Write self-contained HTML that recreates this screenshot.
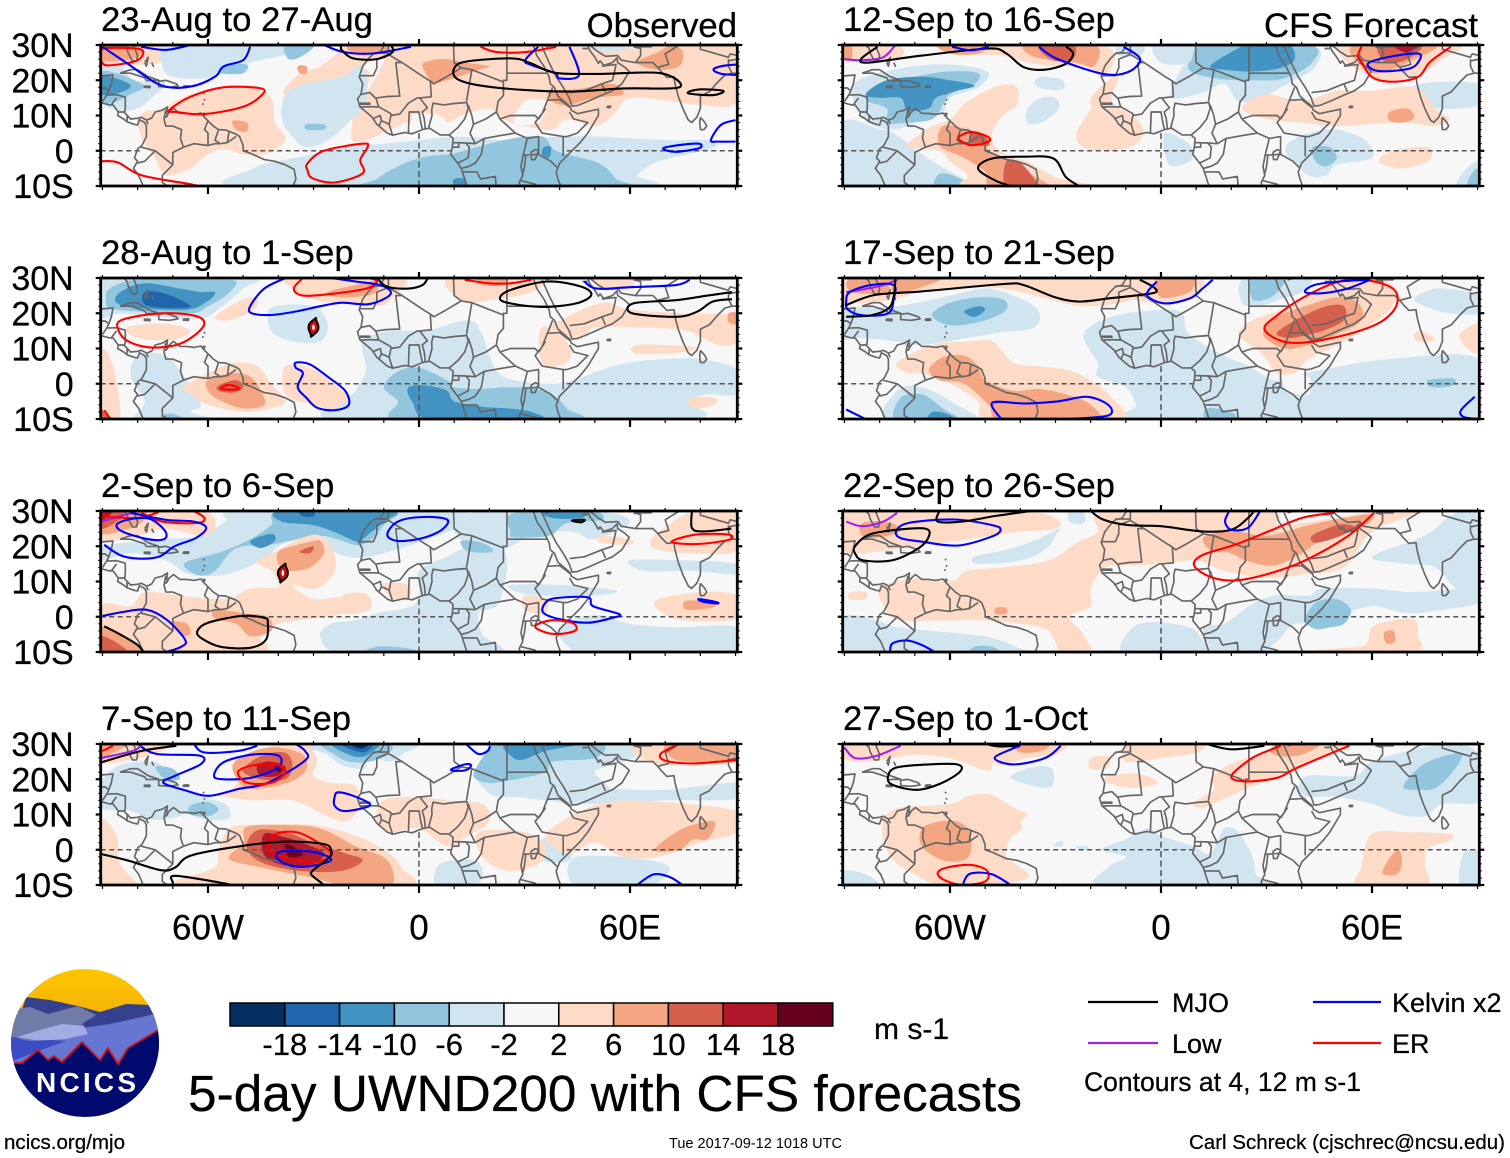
<!DOCTYPE html>
<html lang="en">
<head>
<meta charset="utf-8">
<title>5-day UWND200 with CFS forecasts</title>
<style>
html,body{margin:0;padding:0;background:#fff;}
svg{display:block;}
text{font-family:"Liberation Sans",sans-serif;fill:#000;stroke:#000;stroke-width:.25px;}
</style>
</head>
<body>
<svg id="chart" xmlns="http://www.w3.org/2000/svg" width="1510" height="1158" viewBox="0 0 1510 1158">
  <rect width="1510" height="1158" fill="#fff"/>
  <defs id="defs"></defs>
  <g id="panels"></g>

  <g font-size="34.7">
    <text x="101" y="31">23-Aug to 27-Aug</text>
    <text x="101" y="264">28-Aug to 1-Sep</text>
    <text x="101" y="497">2-Sep to 6-Sep</text>
    <text x="101" y="730">7-Sep to 11-Sep</text>
    <text x="843" y="31">12-Sep to 16-Sep</text>
    <text x="843" y="264">17-Sep to 21-Sep</text>
    <text x="843" y="497">22-Sep to 26-Sep</text>
    <text x="843" y="730">27-Sep to 1-Oct</text>
    <text x="737" y="37" text-anchor="end">Observed</text>
    <text x="1478" y="37" text-anchor="end">CFS Forecast</text>
  </g>

  <g id="colorbar"></g>
  <text x="874" y="1039" font-size="30">m s-1</text>

  <g font-size="27">
    <line x1="1088" x2="1158" y1="1002" y2="1002" stroke="#000" stroke-width="2.2"/>
    <text x="1172" y="1012">MJO</text>
    <line x1="1313" x2="1381" y1="1002" y2="1002" stroke="#0000ff" stroke-width="2.2"/>
    <text x="1392" y="1012">Kelvin x2</text>
    <line x1="1088" x2="1158" y1="1043" y2="1043" stroke="#a020f0" stroke-width="2.2"/>
    <text x="1172" y="1053">Low</text>
    <line x1="1313" x2="1381" y1="1043" y2="1043" stroke="#ff0000" stroke-width="2.2"/>
    <text x="1392" y="1053">ER</text>
    <text x="1084" y="1091" textLength="277" lengthAdjust="spacingAndGlyphs">Contours at 4, 12 m s-1</text>
  </g>

  <text x="188" y="1111" font-size="51" textLength="834" lengthAdjust="spacingAndGlyphs">5-day UWND200 with CFS forecasts</text>
  <text x="4" y="1149" font-size="20.5" textLength="121" lengthAdjust="spacingAndGlyphs">ncics.org/mjo</text>
  <text x="669" y="1148" font-size="14.5" textLength="173" lengthAdjust="spacingAndGlyphs" style="stroke-width:0">Tue 2017-09-12 1018 UTC</text>
  <text x="1189" y="1149" font-size="20.5" textLength="316" lengthAdjust="spacingAndGlyphs">Carl Schreck (cjschrec@ncsu.edu)</text>

  <g>
    <defs>
      <clipPath id="logoClip"><circle cx="85" cy="1043" r="74"/></clipPath>
      <linearGradient id="sky" x1="0" y1="0" x2="0" y2="1"><stop offset="0" stop-color="#ffc600"/><stop offset="1" stop-color="#eea90c"/></linearGradient>
    </defs>
    <g clip-path="url(#logoClip)">
      <rect x="10" y="968" width="150" height="70" fill="url(#sky)"/>
      <path d="M10 1050L26 997L50 1000L78 1006L100 1012L126 1004L150 1005L162 1030L162 1060L10 1060Z" fill="#35418f"/>
      <path d="M10 1010L30 1007L48 1014L78 1006L96 1015L82 1024L90 1034L60 1045L10 1050Z" fill="#717ba8"/>
      <path d="M10 1041L60 1036L82 1028L110 1024L155 1014L162 1030L162 1070L10 1075Z" fill="#6677d2"/>
      <path d="M17 1037L40 1030L62 1024L84 1026L88 1034L66 1039L40 1041Z" fill="#a3abe3"/>
      <path d="M10 1036L28 1041L50 1040L66 1041L20 1058L10 1062Z" fill="#3a4dc4"/>
      <path d="M10 1063L22 1063L38 1050L48 1060L54 1056L62 1062L82 1042L92 1052L100 1060L108 1048L118 1064L128 1048L158 1030L162 1028L162 1125L10 1125Z" fill="#000a6e"/>
      <path d="M10 1063L22 1063L38 1050L48 1060L54 1056L62 1062L82 1042L92 1052L100 1060L108 1048L118 1064L128 1048L158 1030L162 1028" fill="none" stroke="#d8141e" stroke-width="1.8"/>
    </g>
    <text x="86" y="1092" font-size="28" font-weight="bold" text-anchor="middle" textLength="100" style="fill:#fff;stroke-width:0">NCICS</text>
  </g>
</svg>

<script>
/* ---------- colour scale and axis values ---------- */
const levelColors = {"-5":"#053061","-4":"#2166ac","-3":"#4393c3","-2":"#92c5de","-1":"#d1e5f0","0":"#f7f7f7","1":"#fddbc7","2":"#f4a582","3":"#d6604d","4":"#b2182b","5":"#67001f"};
const colorbarLevels = [-5,-4,-3,-2,-1,0,1,2,3,4,5];
const colorbarLabels = ["-18","-14","-10","-6","-2","2","6","10","14","18"];
const latTickValues = [30,20,10,0,-10];
const latTickLabels = ["30N","20N","10N","0","10S"];
const lonTickValues = [-60,0,60];
const lonTickLabels = ["60W","0","60E"];
const waveColors = {mjo:"#000000",low:"#a020f0",kelvin:"#0000ff",er:"#ff0000"};

/* ---------- dashed graticule (drawn over ocean only), in degrees ---------- */
const equatorOceanSpans = [[-90.5,-79],[-50,9.5],[42,90.5]];
const meridianOceanSpan = [5,-10];

/* ---------- coast and border polylines [lon,lat,...] ---------- */
const coastLines = [
 [-90.5,21.2,-87,21.5,-87.5,19,-88.2,17,-88.8,15.8,-86,15.9,-83.5,15.2,-83.5,12,-83.7,10.8,-82,9,-80,9.2,-79,9.5,-77.4,8.7,-76,9.3,-75,11,-73,11.5,-71.5,12.4,-71.7,10.8,-71.5,10,-72,9.5,-71,11,-69.8,12,-68,10.6,-66,10.6,-64,10.3,-62,10.7,-61,9.5,-60,8.5,-58.5,7,-57,6,-55,5.9,-52,4.7,-51,4,-50,1.5,-50,0,-48,-0.7,-44,-2.5,-41,-3,-38,-4,-35.5,-5.3,-35,-8,-36,-10.5],
 [-90.5,13.7,-88,13,-87,13,-85.5,11,-85.7,10,-84,9,-83,8.2,-81,7.5,-80,7.3,-79.5,8.8,-78,8,-77.5,7,-77.5,4,-78.8,1.5,-80,0.5,-80.9,-2,-80,-3,-81.2,-5,-79.7,-7,-78.2,-10.5],
 [-84,30,-83,29,-82.7,27.8,-81.5,25.5,-80.3,25.5,-80,27,-81,29.5,-81.3,30],
 [-90.5,30,-89,30,-84,30],
 [-85,22,-82,23,-80,23,-77,21,-74,20,-77.5,19.9,-78,20.7,-82,22,-85,22],
 [-78.3,18.3,-76.5,18.3,-76.5,17.9,-78.3,18],
 [-74,19.7,-72,20,-69,19,-68.5,18.4,-71,18,-74,18.2,-74,19.7],
 [-67,18.4,-65.5,18.4,-65.5,18,-67,18,-67,18.4],
 [-78,25,-77,26.5,-77.5,24,-78,25],[-76,25,-75.5,24,-76,25],
 [-61.5,16.2,-61,16.2],[-61,14.7,-61,14.2],[-61.5,13.5,-61.4,13],[-61.5,10.6,-60.9,10.6,-61,10,-61.6,10.1,-61.5,10.6],
 [-72,11.6,-72.5,9,-72,7,-70,7,-67.5,6,-67.8,3.5,-67,1,-70,-0.5,-70,-4,-73,-7,-73,-9,-70,-11],
 [-60,8.5,-61,6,-60,5,-60,1.5],[-57,6,-58,3,-56.5,2],[-54,5.7,-54.5,2.3],
 [-52,4,-54.5,2.3,-56.5,2,-58,2,-60,1.5,-64,2,-67,1],[-79,1,-75,0,-70,-4],[-80,-3.5,-78,-3,-75,0],
 [-83.5,11,-85.7,11],[-83,8.5,-83,10],[-77.5,8.5,-77,7.5],[-88.2,17,-89.2,17.8,-91,17.8],[-88.8,15.8,-90,14],[-87.5,13,-86,15],
 /* Africa */
 [-9.8,30,-11,28,-13,27.5,-14.5,26,-16,24,-17,21,-16,19,-16.5,16,-17.5,14.7,-16.8,12.5,-15,11,-13.3,9.5,-12,7.5,-9,5,-7.5,4.4,-4,5.2,-2,4.8,1,6,3,6.4,6,4.5,8.5,4.5,9.7,3.5,9.5,1,9,-1,11,-3.5,12,-5,13,-8,13.8,-10.5],
 [32.5,30,33.5,27,35.5,24,37,21,37.3,19,38.5,18,39.5,15.5,43,12.5,43.3,11.5,45,10.5,51,11.8,51,10,48,5,46,2.5,42,-1.5,40,-3.5,39,-6,39.5,-8,40.5,-10.5],
 [-13,27.7,-8.7,27.7,-8.7,30],[-8.7,27.3,-12,26,-12,23.5,-13,21.3,-17,21.3],[-8.7,27.3,-4.8,25,-6.6,25,-5.5,15.5,-9,15.4,-12,15,-12.2,14.8,-14,16.5,-16.5,16],
 [-4.8,25,1.2,21,3.2,19.8,4.2,19,7.5,20.8,12,23.5,10,25,9.8,30],[12,23.5,15,23,24,19.5],[25,30,25,20,24,20,24,15.7,22.5,14,22,11,23,9],[25,22,36.5,22],
 [15,23,13.5,14],[3.2,19.8,3.5,15.3,0.2,15,-0.5,15,-3,13.5,-5,11,-5.5,10.4,-8,10,-8,10.5,-11.5,12.5,-12.2,14.8],[-11.4,12.4,-13.7,12.5,-16.7,12.4],[-16.8,13.5,-14,13.5,-14,13.2,-16.8,13.2],
 [-13.3,9,-11,10,-10.7,8.5,-11.4,7],[-8.5,7.5,-7.5,4.4],[-8,10,-8.5,7.5,-9.5,8,-10.7,8.5],[-3,5,-2.8,11,0,11,0.5,8,1,6],[1.8,6.3,1.5,9,0.9,11,2.4,12.2,0.2,15],
 [2.7,6.3,3.7,10,3.6,11.7,4,13.5,7,13,10,13.4,13.6,13.7,14,12,13,9,11,6.5,9,4.8,8.5,4.5],[14,13,15,10,15.5,7.5,14.5,5,16,2],[9.8,2.3,13.3,2.2,16,2],[15.5,7.5,19,9,22,11],[23,9,27.4,5,22.5,4.2,18.5,3.5,16,2],
 [18.5,3.5,17.7,-1,16,-3.5,14,-4.5,12,-5],[13.3,2.2,14.3,1,14,-2,11,-3.5],[9.5,1,11.3,1,11.3,2.2],[12.2,-6,16.5,-6,17.5,-8,21.7,-7.3,22,-11],
 [27.4,5,30.8,3.5,29.6,-1.3,29,-4.5,29.5,-7,28.5,-9,29,-11],[23,9,26,10,33,10,34,9],[36.5,14.3,35,10.5,33,8,35,5,41,4,42,4,45,5,48,8,44,9,42.8,11],[30.8,3.5,34,4,34,-1,37.5,-3,39.2,-4.7],
 [31.8,-0.5,33,0.3,34,0,33,-2.5,32,-2.5,31.8,-0.5],[29.6,-1.3,34,-1],[30.4,-1,30,-4.5,29.5,-6.5],[29,-8.5,33,-9.5,34.5,-11],[41,4,41,-1.6],[36.5,14.3,38,18],[36.5,14.3,40,14.5,43,12.2],[34,9,36,12],
 /* Arabia, Iran, South Asia */
 [35,29.5,37,25,39,21,41,18,42.7,15,43.5,12.7,45,12.8,48,14,52,15.8,55,17,57.7,19,59.8,22.5,58.5,23.7,56.5,25,56.3,26.3,55,25,52.5,24.2,51.5,25.5,51,24.8,50,26.5,48.5,28.5,48,30],
 [48.5,30,51,28,53,26.8,56.5,27,57.5,25.7,61.5,25,66.5,25,68,23.5,69,22.3,70.5,20.8,72.5,21,72.8,19,73.7,15.5,75,12,76.5,8.8,77.5,8,79,9.5,80,12,80,15.5,82.5,16.7,85,19.5,87,21.5,89,22,90.5,22],
 [80,9.5,81.3,8,81.8,7,81,6,80,6,79.8,8,80,9.5],[53.5,12.6,54.5,12.6,54.3,12.2,53.5,12.3,53.5,12.6],
 [36,29.5,38,30,40,31],[46.5,29,48,29],[42.8,16.5,47,17,52,19,55,20,55.5,22,56,24.5,52,24],[52,19,53,16.7],[61.5,25,63,27,63,29,61,29.5],[68,23.7,71,24.5,70,27.5,74,30],[61,29.5,66,29.5,67,31],
 [80,30,80,28.8,88,26.5,88.5,27.5,90.5,27],[88,26,88,24,89,22],[90.5,26,88,25.5],[74,30,79,31]
];

/* ---------- contour-fill regions: [level,[lon,lat,...]] ---------- */
const fills1 = [
 [1,[-90.5,30,-72,30,-74,25,-85,24.5,-90.5,25]],
 [2,[-90.5,30,-80,30,-80,26.5,-90,25.5]],
 [-1,[-90.5,24,-85,24,-81,20,-75,20,-72,19,-76,15,-80,12,-85,11.5,-90.5,14]],
 [-2,[-90.5,22,-86,22,-81,20,-78,18,-82,16,-86,14,-90.5,14]],
 [-3,[-90.5,21,-86,20.5,-82,18.5,-85,16.5,-90.5,16]],
 [-1,[-72,30,-55,30,-40,30,-33,30,-37,27.5,-48,25,-55,22,-62,20.5,-70,21,-73,24]],
 [-2,[-56,24,-49,24.5,-50,22,-56,22]],
 [-2,[-38,30,-30,30,-33,27,-37,26]],
 [1,[-20,30,-12,30,5,30,30,30,60,29,65,30,90.5,30,90.5,14,80,13,72,14,60,15,55,10,50,7,42,9,38,6,30,7,24,9,20,12,12,10,8,8,0,9,-8,6,-15,3,-19,3,-19,8,-19,14,-23,20,-38,16,-35,21,-28,24,-24,27]],
 [1,[-73,12,-65,16,-55,17.5,-48,18,-42,15,-41,8,-38,3,-44,-1,-50,-1,-55,0.5,-60,-1,-65,-5,-72,-7,-75,-2,-78,2,-80,8,-78,11]],
 [0,[-16,24,-10,26,-14,18,-17,15,-15,17,-14,22]],
 [-1,[-39,9,-38,16,-32,19,-22,21,-16,24,-15,14,-20,8,-26,3,-32,1,-36,4]],
 [-2,[-32,7.5,-27,7.5,-27,6,-32,6]],
 [0,[27,8,34,8,36,14,30,14]],[0,[-2,10,6,10,8,6,2,5]],[0,[70,7,85,9,90,10,90,7,80,6]],
 [-1,[-48,-10.5,-47,-5,-40,-3,-30,-1,-22,1,-10,2,0,3,12,4,25,3,40,4,52,4,60,3.5,72,3,82,3,84,1,72,-2,66,-4,62,-7,60,-10.5]],
 [-2,[-12,-10.5,-12,-8,-4,-3.5,3,-1.5,10,-0.7,24,3,35,4,39,0,51,-3.5,56,-8,56,-10.5]],
 [-3,[35.5,1,37.5,1,37,-2,35,-1]],[-3,[10,-8,13,-8,13,-10,10,-10]],[-3,[0,-10,7,-10,7,-10.5,0,-10.5]],
 [2,[1,24,3,25.5,8,26,13,25,20,24,17,23,8,20,4,19.5]],
 [2,[37,17,45,17.5,55,19,58,16,50,15,42,13,38,14]],
 [2,[62,25,68,28,72,30,75,28,74,24,68,23]],
 [2,[-53,8.5,-49,8,-49,5.5,-52,6]],
 [2,[-34.5,24,-32,24,-32,22,-34,22]],
 [2,[-20,30,-9,30,-10,28,-18,27.5]],
 [-1,[50,30,60,30,58,28.5,50,28.5]]
];
const fills2 = [
 [-1,[-90.5,30,-48,30,-50,27,-56,22,-62,18.5,-75,19,-85,20,-90.5,19]],
 [-2,[-88,27,-80,29.5,-60,29.5,-52,29,-55,25,-60,22,-65,20,-80,20.5,-88,21.5,-89,24]],
 [-3,[-85,26,-78,28.5,-68,27,-62,26,-58,26,-60,23.5,-66,21,-80,21.5,-86,23]],
 [-4,[-78,26,-72,25.5,-65,22,-72,21.5,-78,22.5]],
 [1,[-36,30,-5,30,-8,24,-12,22,-23,23,-30,24,-36,27]],
 [2,[-26,26,-18,28,-12,29,-13,25.5,-22,24.5]],
 [1,[-83,16,-72,17,-65,15,-70,12.5,-80,13]],
 [-1,[-42,21.5,-30,22,-26,17,-28,12,-36,12,-42,15]],
 [1,[-58,19,-50,24,-46,24,-47,21,-54,18]],
 [-1,[-22,-10.5,-18,-2,-15,4,-16,12,-8,15,2,15,14,18,18,14,20,8,24,2,36,0,44,1,52,4,60,6,70,7,80,7,90.5,4,90.5,-3,82,-3,77,-5,74,-10.5]],
 [-2,[-10,-1,-6,3.5,0,4.5,8,1,10,-1,18,-1.5,25,-1,33,-1.5,38,-3,42,-7,44,-10.5,-5,-10.5,-6,-5]],
 [-3,[-3,-1,2,-0.5,8,-2,10,-5,18,-6.5,25,-7,32,-8,34,-10.5,4,-10.5,-2,-5]],
 [-1,[-80,8,-72,8,-66,1,-62,-6,-65,-8,-58,-10.5,-80,-10.5,-78,-5,-82,2]],
 [-2,[-73,-9,-70,-8.5,-66,-10.5,-73,-10.5]],
 [1,[9,30,34,30,32,26,22,24,14,23,10,25]],
 [2,[17,30,25,30,23,28,18,28]],
 [1,[36,15,40,18,52,23,60,21,75,20,90.5,19,90.5,12,85,11,76,15,62,16,50,16,47,13.5,40,13]],
 [1,[35,16,40,14,43,10,42,6,36,5,34,10]],
 [1,[50,30,60,30,60,27,52,27]],
 [2,[88,20,90.5,20,90.5,17,88,17.5]],
 [1,[-67,-1,-58,4,-52,6,-46,5,-42,0,-38,-5,-42,-7,-50,-8,-60,-6,-65,-3]],
 [2,[-60,1,-53,3,-48,2,-45,-2,-44,-6,-50,-7,-57,-4.5,-60,-2]],
 [3,[-57,-0.5,-52,1,-50,-1,-53,-2.5,-57,-2]],
 [1,[-38,5,-30,4,-22,-2,-20,-4,-24,-7,-30,-6,-38,-3]],
 [1,[62,11,78,10.5,75,9,62,8.5]],
 [1,[77,-4,84,-4,84,-6,78,-7]],
 [1,[-90.5,9,-87,5,-85,-10.5,-90.5,-10.5]],
 [3,[-90.5,-7,-88,-10.5,-90.5,-10.5]]
];
const fills3 = [
 [-1,[-90.5,20,-72,22,-62,23,-55,27,-50,30,10,30,12,26,8,24,-10,18,-20,17,-30,21,-38,21,-45,16,-55,12,-65,12,-72,16,-82,18,-90.5,16]],
 [-2,[-62,11.7,-58,13,-52,19.4,-42,20.5,-28,23,-16.5,20.4,-10,26,-8,30,-39,30,-42,26,-48,22,-56,18.5,-66,15.6,-66,13.5]],
 [-3,[-39,30,-8,30,-10,27,-16,22,-17,21,-24,24,-30,26,-39,27]],
 [-3,[-48,21.5,-42,23.5,-41,21.5,-45,19.5]],
 [-4,[-34,30,-30,30,-30,28.5,-33,28.5]],
 [1,[-90.5,30,-62,30,-58,25,-62,23,-72,25,-80,23,-90.5,22]],
 [2,[-90.5,30,-78,30,-80,26,-90.5,23.5]],
 [3,[-90.5,30,-84,30,-86,27,-90.5,25]],
 [4,[-90.5,30,-87,30,-90.5,27]],
 [-1,[18,30,50,30,60,27,50,22,44,24,34,24,28,21,18,16,14,20,10,25]],
 [-2,[26,24,26,29,38,30,50,30,52,27.5,42,26.5,37,23,27,22.5]],
 [-3,[35,30,47,30,46,28,38,28]],
 [-1,[0,13,8,17,14,20,22,21,25,16,24,8,22,3,17,1,18,-5,22,-10.5,-20,-10.5,-28,-6,-25,-2,-18,-1,-12,1,-2,3,0,7]],
 [-2,[12,21.5,18,21,21,18.5,14,18.5]],
 [-2,[-15,-10.5,0,-10.5,-3,-9,-12,-8.5]],
 [-1,[60,16,75,16,90.5,15,90.5,12,78,13,64,13]],
 [-1,[26,9,40,9,56,7.5,50,6,35,6,28,7]],
 [-1,[40,-3,50,0.5,60,-2,72,-3,90.5,-3,90.5,-10.5,50,-10.5,42,-8]],
 [1,[-90.5,3,-82,3,-78,7,-68,6,-55,5,-48,8,-40,8.5,-42,13,-46,15.5,-40,19,-33,22.5,-28,23,-24.5,19,-24,13,-29,8,-36,9,-30,5,-22,5.5,-20,1.5,-30,-0.5,-40,-2,-45,-6,-43,-8,-48,-10.5,-90.5,-10.5]],
 [2,[-40,18.5,-36,20,-30,21.5,-28,21.5,-27,18,-31,14,-37,13,-40,15]],
 [3,[-34,18.5,-30,20,-31,18]],
 [2,[-58,2,-50,1,-43,0,-42,-4,-48,-5.5,-52,-2,-58,-0.5]],
 [2,[-90.5,-3,-83,-6,-78,-10.5,-90.5,-10.5]],
 [3,[-90.5,-5.5,-85,-8,-83,-10.5,-90.5,-10.5]],
 [2,[-70,-1.5,-66,-2,-65,-5,-68,-5]],
 [1,[-22,6,-15,6.5,-14,2,-22,1]],
 [1,[-10,9.5,-3,9,-3,5,-8,5.5]],
 [1,[30,6,36,5,36,1,30,2]],
 [1,[51,23,60,22,60,20.5,52,21]],
 [1,[66,22,74,28,80,30,90.5,30,90.5,19,78,18,68,19]],
 [1,[68,5,80,7,90.5,6,90.5,-0.5,75,-1,68,2]],
 [2,[76,4.5,84,4,83,2.5,76,2]]
];
const fills4 = [
 [-1,[-90.5,19,-85,24,-76,25,-72,23,-68,18,-62,15,-55,13,-54,9,-60,8.5,-66,10,-70,9,-76,8.5,-82,11,-90.5,12]],
 [-2,[-75,23.5,-70,23,-68,20,-72,20]],
 [-2,[-65,12.5,-60,13.5,-57,11.5,-60,9.5,-65,10]],
 [-1,[-32,30,-26,27,-22,24,-16,23,-14,26,-8,25,-5,27,-2,30]],
 [-2,[-27,30,-24,27,-20,25,-14,25,-9,27,-9,30]],
 [-3,[-24.5,30,-20,27,-16,26.3,-13,28,-12,30]],
 [-4,[-22,30,-18,28,-15,27.8,-13.5,30]],
 [-5,[-19.5,30,-16.5,28.7,-14.5,30]],
 [-1,[17,19,17,23,20,26,25,30,60,30,62,27,55,24,50,22,54,17,45,17,38,14,28,15,22,15]],
 [-1,[38,18,50,17.5,70,17,90.5,19,90.5,14.5,70,14,50,13,38,14]],
 [-2,[15.5,21,18,26,22,30,36,30,52,30,50,26,38,25,36,22,25,19.5,19,19]],
 [-3,[25,30,45,30,36,28,30,25.7,27,26]],
 [-1,[6,-4,16,-3,18,-8,14,-10.5,5,-10.5]],
 [-1,[35,3,42,3,43,-3,35,-3]],
 [-1,[45,-2,70,-4,65,-10.5,45,-10.5]],
 [-2,[10,-10,18,-10,15,-10.5]],
 [1,[-90.5,30,-72,30,-76,27,-90.5,24.5]],
 [2,[-90.5,30,-83,30,-88,27,-90.5,26]],
 [1,[-53,17,-49,24,-43,29,-33,30,-29,26,-30,21,-25,19,-18,18,-17,12,-21,8,-27,10,-36,14,-48,14,-56,15.5]],
 [1,[-54,6,-47,7,-30,7,-18,4,-10,0,-5,-5,-6,-10.5,-68,-10.5,-58,-5,-57,0]],
 [1,[-10,14,0,15,8,14,18,13,20,8,14,4,8,1,0,6,-8,5,-12,8]],
 [1,[17,5,30,5,36,1,34,-4,25,-6,18,-2]],
 [1,[36,4,46,11,60,14,90.5,11,90.5,5,80,2,68,-2,58,-2,50,2,42,-1]],
 [1,[-90.5,8,-86,4,-85,-4,-80,-10.5,-90.5,-10.5]],
 [2,[-53,24,-47,28,-40,29,-33,27,-32,23,-36,19.5,-44,17.5,-50,18]],
 [3,[-49,24,-44,27,-38,27.5,-36,24,-38,20,-45,20,-50,22]],
 [4,[-46,24,-42,25,-38,23.5,-40,21,-45,21]],
 [5,[-41,23.5,-39,23,-40,22]],
 [2,[-49,6.5,-38,7,-28,6,-18,1,-9,-3,-8,-10.5,-20,-10.5,-30,-8,-45,-5,-54,-2.5,-50,2]],
 [3,[-46,5.5,-38,5,-30,2,-21,-1,-16,-3,-22,-6,-34,-6,-45,-3.5,-49,1]],
 [4,[-44,4.5,-38,3.5,-32,1.5,-27,-1,-30,-4,-38,-4.5,-44,-1.5]],
 [5,[-38,1.5,-35,0.5,-33,-1.5,-37,-2]],
 [2,[67,0,75,6,84,8,82,3,78,3,74,0]],
 [1,[62,30,90.5,30,90.5,25,75,24,65,25]],
 [2,[71,30,90.5,30,90.5,25,78,25,72,26]]
];
const fills5 = [
 [-1,[-88,16,-86,20,-76,23,-65,24.5,-55,24,-49,22,-52,18,-60,15,-62,11,-68,9,-72,7,-78,6,-84,9]],
 [-2,[-84,14.5,-80,18,-70,21,-60,22.5,-52,22,-53,19,-60,16,-62,13,-65,9,-72,8,-78,8,-78,12]],
 [-3,[-84,16,-78,20,-68,21,-60,20,-53,18.5,-58,17,-64,15,-66,12,-72,11.5,-74,15,-80,15]],
 [-1,[-34,21,-28,20,-28,17.5,-33,17.5,-36,19]],
 [-1,[-38,8,-38,12,-34,15,-30,15,-29,12,-34,8]],
 [-1,[-90.5,8,-80,6,-76,5,-65,-3,-56,-8,-50,-10.5,-90.5,-10.5]],
 [-2,[-63,-6.5,-58,-7.5,-54,-10.5,-64,-10.5]],
 [-1,[3,15,5,22,8,26,10,30,42,30,44,24,36,19,28,15,22,14,18,19,12,16.5]],
 [-2,[8,23,10,29,14,30,42,30,43,25,35,20.5,26,20,16,20.5]],
 [-3,[14,24,20,28,25,30,36,30,38,26,34,23.5,26,22.5,18,23]],
 [-1,[70,15,74,19,90.5,19,90.5,13,78,12]],
 [-1,[36,2,42,5,50,6,58,3,60,-2,50,-4,47,-7,42,-7,36,-1.5]],
 [-2,[43,1,48,1,50,-2,47,-4.5,44,-3]],
 [-1,[1,5,8,2,9,-2,6,-4,2,-3.5]],
 [-1,[84,-10.5,90.5,-10.5,90.5,-3,86,-6]],
 [-2,[87,-10.5,90.5,-10.5,90.5,-5,88,-7]],
 [-1,[-12,30,-5,30,-6,27,-12,27]],
 [-1,[-2,30,8,30,8,25,0,25]],
 [1,[-90.5,30,-75,30,-75,26,-90.5,25.5]],
 [2,[-90.5,30,-88,30,-88,26,-90.5,26]],
 [1,[-62,30,-17,30,-16,21,-22,24,-30,24,-38,25,-45,27,-55,27.5]],
 [2,[-38,30,-19,30,-19,24,-24,25,-30,25.5,-37,27]],
 [3,[-34,30,-25,30,-25,26,-30,25.5,-34,28]],
 [2,[-63,30,-50,30,-52,27.5,-60,27.5]],
 [1,[-65,7,-60,9,-55,14,-46,18.5,-41,18,-41,13,-45,10,-48,5,-47,1,-42,-2,-38,-3,-30,-7.5,-18,-10.5,-55,-10.5,-55,-7,-60,-3,-63,0,-72,1,-71,3]],
 [2,[-62,7,-55,6,-50,4,-49,0,-45,-2,-41,-3,-38,-6,-32,-10.5,-48,-10.5,-50,-6,-56,-2,-63,1.5]],
 [3,[-54,5,-50,4,-49,1.5,-54,2]],
 [3,[-44,-3,-40,-3.5,-36,-8,-35,-10.5,-44,-10.5]],
 [1,[-15,20,-12,21,-14,14,-8,10,-5,6,-7,2,-14,0,-22,1,-24,5,-20,12,-20,15]],
 [1,[23,12,30,16,40,14,50,17,60,17,72,18,78,12,82,9,78,7,68,8,50,7,40,8,30,9]],
 [2,[65,11,70,12,72,9.5,69,8,65,8.5]],
 [1,[50,29.5,55,30,84,30,80,26,74,22,64,20,56,23,52,26]],
 [2,[55,30,78,30,70,25,62,22,57,24]],
 [3,[62,30,74,30,70,26,64,25]],
 [4,[66,30,73,30,70,27.8]],
 [1,[66,0,76,1,76,-3,68,-5,62,-3]]
];
const fills6 = [
 [-1,[-90.5,21,-75,22,-60,25,-50,27,-42,25,-35,21,-36,16,-46,14.5,-55,13,-68,11,-75,12,-85,13,-90.5,13]],
 [-2,[-65,20,-60,23,-52,24.5,-45,24,-44,21,-50,18,-58,16.5,-63,17.5]],
 [-3,[-56,20.5,-52,22,-50,21,-53,19]],
 [-1,[-22,14,-14,19,0,21,6,20,8,14,18,8,25,5,32,1,37,2,46,4,65,7,90.5,7,90.5,-10.5,-4,-10.5,-7,-6,-10,-1,-18,2,-18,6]],
 [0,[35,2,42,2,42,-3,36,-2]],
 [-2,[76,1,83,1.5,83,-0.5,77,-1]],
 [-2,[13,-7,20,-8,21,-10.5,13,-10.5]],
 [-1,[23,23,24,30,42,30,40,26,34,24,28,22]],
 [-2,[26,24,26,30,35,30,33,26,30,24]],
 [-1,[72,24,78,27,88,26,90.5,25,90.5,20,82,20,75,22]],
 [-1,[-75,-2,-68,-1,-58,-6,-53,-10.5,-78,-10.5]],
 [-2,[-74,-4,-68,-3,-62,-7,-58,-10.5,-75,-10.5]],
 [-3,[-65,-8,-61,-8.5,-58,-10.5,-66,-10.5]],
 [1,[-90.5,30,-74,30,-72,25,-90.5,23]],
 [2,[-88,30,-75,30,-78,26,-88,26]],
 [1,[-75,26,-70,30,-5,30,-8,24,-20,22,-28,23,-45,27,-60,27]],
 [2,[-75,25.5,-62,30,-75,30]],
 [1,[-10,30,11,30,9,25,0,23,-8,24,-12,27]],
 [2,[-1,30,9,30,8,26,0,24.5]],
 [1,[-75,6,-65,11,-55,12,-48,12,-42,6,-35,5,-27,4,-22,2,-15,-3,-12,-10.5,-48,-10.5,-52,-5,-60,0,-68,3,-72,3]],
 [2,[-66,4,-62,7.5,-56,8,-52,5,-50,1,-42,-2,-35,-1.5,-27,-3,-20,-6,-19,-10.5,-45,-10.5,-49,-6,-56,0,-63,1]],
 [1,[22,14,26,18,37,22,45,27,50,30,62,30,67,26,65,21,60,17,52,12,42,7,38,3,33,3,30,7,27,10]],
 [2,[29,14,33,19,41,22,50,24.5,56,23,57,18,50,14,42,11,35,10]],
 [3,[33,14.5,40,19,47,22,52,22,52,18,46,15,40,13.5,36,13]],
 [1,[72,14,74,15,78,12.5,73,12]],
 [1,[85,14,90.5,17,90.5,9,87,10]]
];
const fills7 = [
 [1,[-90.5,30,-42,30,-30,28,-30,25,-42,24,-55,22,-70,20,-85,18,-90.5,19]],
 [2,[-85,26.5,-78,27,-74,24.5,-80,22.5,-85,23]],
 [1,[-80,8,-70,11,-60,10,-55,13,-45,14,-32,16,-24,21,-18,24,-15,30,30,30,34,26,55,29,65,30,74,30,60,24,52,14,40,12,30,11,18,13,10,16,0,15,-10,14.5,-16,14,-20,8,-20,3,-26,0,-22,-5,-20,-10.5,-28,-10.5,-32,-4,-40,-2,-52,-1,-60,-1,-74,-1,-78,2]],
 [1,[36,-10.5,50,-9,58,-8,60,-3,66,-1,72,-0.8,73,-5,71,-10.5]],
 [2,[63.5,-4.5,66,-4,66.5,-7,64,-7.5]],
 [2,[-47,2.5,-44,2.5,-44,0.8,-47,0.8]],
 [1,[-88.5,7,-84,7,-84,5,-88.5,5]],
 [2,[12,21.5,13,23,20,24.5,30,23,42,26,52,28,60,29,58,26,46,22,40,18,32,14.5,24,16,20,18,14,19]],
 [3,[43,23,50,26,54,26,55,25,50,22.5,44,21]],
 [-1,[-26,30,-22,30,-22,26.5,-26,27]],
 [-1,[-53,17,-44,19,-35,22,-29,25,-30,23,-33,19,-40,16,-52,15]],
 [-1,[60,17,75,23,83,29,90.5,30,90.5,8,84,8,78,14,70,15]],
 [-1,[18,-2,25,3,32,6,42,6,46,8,60,8,72,7,90.5,8,90.5,4,80,2,70,1,60,3,50,0,46,-3,38,-2,33,-7,27,-10.5,16,-10.5,12,-3]],
 [-2,[41,-1,44,4,50,5,54,2,52,-2,48,-3,44,-3.5]],
 [-1,[-10,-10.5,-9,-4,-3,-1.5,8,-3,12,-7,13,-10.5]],
 [-1,[-90.5,0,-81,-1,-75,-3,-60,-4.5,-48,-6,-40,-9,-36,-10.5,-90.5,-10.5]],
 [-2,[-53,-8.5,-48,-8.5,-46,-10.5,-54,-10.5]]
];
const fills8 = [
 [1,[-90.5,30,-47,30,-48,24,-50,22.5,-60,26,-70,27,-76,26,-85,25,-90.5,26]],
 [1,[-47,30,-28,30,-30,27,-38,26,-46,24,-47,26]],
 [2,[-41,30,-32,30,-34,28,-40,27.6]],
 [1,[-20,26,-15,26.5,-15,23.5,-20,23]],
 [1,[-15,21,-6,21.5,-1,19,-8,17.5,-15,19]],
 [1,[-9,30,11,30,10,27.5,0,26,-10,25]],
 [1,[9,13,15,17,14,20,19,24,30,28,35,30,54,30,45,26,35,21,26,18,17,14,12,12]],
 [2,[31,28,34,30,45,30,40,27,34,26.5]],
 [1,[-79,9,-78,10,-74,12,-60,13,-54,15.5,-48,15.5,-42,12,-38,10,-40,8,-39.5,6,-43,3,-44,-2,-40,-5,-38,-8,-50,-10.5,-62,-10.5,-70,-7,-76,-3,-79,3]],
 [2,[-68,6,-63,8,-58,8,-54.5,5.5,-54,0,-56,-3,-62,-3,-68,1]],
 [1,[56,-10.5,57,-5,58,1,61,5,70,5,82,4.5,82,2.5,76,0.5,75,-4,75,-10.5]],
 [2,[63,-6.5,66,-1,68,-0.5,68.5,-4,67,-7]],
 [-1,[-42,21.5,-36,23.5,-31,23,-31,18,-36,18,-42,20]],
 [-1,[39,18,42,21,55,21,60,25,70,28,80,30,86,30,90.5,26,90.5,14,80,13,75,9.5,68,10,60,13,50,15,42,15,38,17]],
 [-2,[69,17.5,71,21,76,25,85,27.5,85,25,82,21,78,17.5,74,17]],
 [-1,[-17,0,-10,3,-4,6,0,4,9,1,14,-1,18,6,22,5,26,-2,27,-7,29,-10.5,-16,-10.5,-15,-5,-10,-2]],
 [-1,[-30,2,-28,2.5,-28,1,-30,1]],[-1,[-24,1,-21,1,-21,0,-24,0.5]],
 [-1,[-90.5,-6,-84,-7,-80,-10.5,-90.5,-10.5]],
 [-1,[86,-1,90.5,-1,90.5,-10.5,85,-10.5]]
];

/* ---------- wave contours: [type,closed,[lon,lat,...]] ---------- */
const contours1 = [
 ['er',1,[-71,11.5,-65,15.3,-55.6,18,-45,17.7,-44.7,15.8,-50,12.5,-61,10.4,-69,11]],
 ['er',0,[-90.5,-3,-85.7,-3.3,-78.8,-7,-65,-9.5,-62,-10.5]],
 ['er',1,[-31.7,-3.6,-27,0,-16,2,-14.6,1.1,-16.7,-2.6,-16,-6.4,-24,-9,-30.3,-7.8,-31.7,-5.5]],
 ['er',1,[-90.4,28.6,-85.6,29.2,-78.8,28.6,-80,25.7,-87,24.3,-90,24.8]],
 ['er',0,[17.5,29.5,22,28,30.5,28,39,29.5]],
 ['kelvin',0,[-90,29.5,-83,24.8,-73.4,18.6,-65,18.2,-58,21,-55.6,23.9,-50,25.7,-48,29.5]],
 ['kelvin',0,[-79,29.5,-72,28.6,-65,30]],
 ['kelvin',0,[-27,30,-21.5,28,-13,27.6,-2.3,29.5]],
 ['kelvin',0,[33.9,29.5,30.2,25.7,32,24.3,38.7,22,40,20.5,45.5,21.5,42.8,29.5]],
 ['kelvin',0,[90.5,24.5,86,24,83.7,23,86,21.8,90.5,21.5]],
 ['kelvin',0,[90,8.7,85.8,7.3,83,3,85,2.6,90,2.6]],
 ['kelvin',1,[69.4,0.7,74,1.6,79.6,2,79.6,0.7,72.8,-0.3]],
 ['mjo',0,[-22,30,-22,28.6,-18.7,26.2,-12,26,-7.5,28,-8,30]],
 ['mjo',1,[10,23.4,13.4,25.3,26.4,26.2,31.8,24.8,38.7,22.1,51,21.8,68.7,22,74,18,58,17.7,44,16.8,30.5,17.2,16.8,18.6,10.7,20.5]],
 ['mjo',1,[76.5,16.3,79.6,17.4,86.5,17,83.7,15.8]]
];
const contours2 = [
 ['er',1,[-84.7,18,-76.5,19.7,-68,19.9,-61.8,18.5,-61.8,15.6,-68,11.3,-76.5,10.3,-83,12.2,-85.6,15.6]],
 ['er',0,[-33,30,-35.6,27,-33,25,-25,25.5,-15,27,-12,29,-14,30]],
 ['er',0,[13,29.5,20,28.5,26,28.5,32,29.5]],
 ['er',1,[-56.5,-1.3,-54,-0.3,-51,-1.4,-54,-1.7]],
 ['er',0,[-89.5,-7.5,-87.6,-10.2]],
 ['kelvin',0,[-38,30,-44,27,-48,22,-47.5,20,-42,19.5,-35,20.5,-28,22,-22,23,-15,22.5,-10,24,-8,26,-11,28,-18,29,-25,30]],
 ['kelvin',1,[-35,6,-31,5.5,-26,2,-21,-2,-20,-6,-24,-7.5,-29,-6.8,-32,-4,-34.5,-1,-33,3,-35,4.5]],
 ['kelvin',0,[47,29,50.5,27,60,27.4,73,28,77,29.5]],
 ['mjo',0,[-12,30,-9,27.5,-3,27,1,28,2.5,30]],
 ['mjo',1,[23,24.2,26,26.6,36.5,29,46,27.6,49,25.2,44.7,22.8,35,21.8,26,22.8]],
 ['mjo',0,[89,26,82,25,73,23.7,61,22.8,60.6,20,73,19,79,20.4,83.5,23.3,89,24]]
];
const contours3 = [
 ['low',0,[-90.5,27,-85,28.5,-80,30]],
 ['er',0,[-90.5,28.5,-80,28,-74,29.7]],
 ['er',0,[-79,29.5,-73,27,-63,26.6,-61,28,-64,30]],
 ['kelvin',1,[-86,26,-83,27.5,-78,28,-75,27,-72,24,-72.5,22,-77,22,-84,24]],
 ['kelvin',0,[-89.5,20.4,-85,17.5,-80,16.5,-74,17,-69.5,20,-63.5,22.3,-60.5,25.2,-64,27,-72,27.5,-82,29.5]],
 ['kelvin',0,[-90,0.2,-85,1.2,-77.6,2,-71.8,-0.8,-66.5,-6.5,-67.6,-8.5,-71.8,-10]],
 ['kelvin',1,[-9,23.3,-6,27,1,28.3,8,27.6,6.5,24.7,1,22.3,-6,21.5]],
 ['kelvin',1,[36,4,39,5.3,48,5.5,49.5,3,57,0.7,55,-0.3,48,-1.7,40,-0.7,35.3,1.2]],
 ['kelvin',1,[79.5,5,84,4.3,85,3.8,81,4.2]],
 ['er',1,[33,-2.7,37.6,-1,43.5,-1.7,44.7,-3.7,41,-4.8,36.5,-4.6]],
 ['er',1,[71.8,21.3,78.8,23.3,88,23.3,88,21.8,78.8,20.6]],
 ['mjo',0,[77.6,30,77.6,25.2,80.6,24.2,88.8,25]],
 ['mjo',1,[43.5,27.3,47,27.5,46,26.8]],
 ['mjo',1,[-63,-4,-60,-1.7,-50.6,0.2,-44,-0.3,-43,-1.7,-43.5,-6.5,-48,-8.8,-56.5,-8.5,-62,-6]],
 ['mjo',0,[-89.5,-2.7,-85,-5,-80,-8,-78,-10.5]]
];
const contours4 = [
 ['kelvin',0,[-80,30,-74.7,27.2,-62.4,26.7,-62,24.3,-69.3,21,-72.7,19,-66.3,16.8,-59.7,15.3,-51.5,17.2,-43,19,-32.4,25.3,-32.4,28,-35,30]],
 ['kelvin',0,[-64,30,-61,27.6,-51.5,28,-46,29.5]],
 ['kelvin',1,[-58.3,21,-55.6,24.8,-47.4,27,-40,26.7,-40,23.4,-47.4,20.5,-55.6,20]],
 ['er',1,[-51.5,22,-47.4,23.9,-40.6,24.3,-38,22,-42,19,-48.8,19]],
 ['er',1,[-42.6,1.6,-40.6,4.5,-35,5,-29.6,2.6,-24.9,-1.2,-29.6,-3.6,-38,-2.2,-42.6,-0.3]],
 ['kelvin',1,[-40.6,-1.7,-38,-0.3,-29.6,-0.7,-25,-3,-32.4,-4.8,-38,-4]],
 ['mjo',0,[-90.4,-1.2,-83,-3,-73.4,-5.8,-69.3,-5,-65,-1.7,-51.5,0.9,-38,2.3,-27,1.6,-25,-0.3,-25.5,-2.2,-30.3,-6,-30.3,-7.4,-27.6,-9.5,-27,-10.5]],
 ['mjo',0,[-70,-10.5,-70,-9.3,-69.3,-7.4,-55.6,-9.5,-52,-10.5]],
 ['mjo',0,[-90.4,24.8,-79,28,-69,29.5]],
 ['low',0,[-90.4,26,-81.5,28,-79,29.5]],
 ['er',0,[-90,28,-87,29.5]],
 ['kelvin',1,[-24,14.9,-23,16.3,-18.7,15.3,-14,13,-16,11.8,-21.4,11,-24,12.5]],
 ['kelvin',1,[9.3,22.9,13.4,24.3,14.8,23.9,13.4,22.6,10,22.4]],
 ['kelvin',0,[13.4,30,16.8,27.2,19.5,28,20.2,29.5]],
 ['kelvin',0,[62,-10,66.7,-7,71.4,-7.8,74.9,-10]],
 ['er',0,[72.8,29.5,68.7,27.2,70,25.3,78.3,24.5,90.5,25.5]]
];
const contours5 = [
 ['low',0,[-90,26,-85,25.7,-79,26.5,-75.5,30]],
 ['mjo',0,[-80.6,29.5,-85.3,26,-83,25,-68,27,-49,29,-44,27.6,-39,23.7,-33,23,-27,24.7,-25,27.6,-27,29.6]],
 ['kelvin',0,[-59.4,29.5,-54,28.5,-49,29.5]],
 ['kelvin',0,[-34.7,29.5,-29.4,26,-16.5,21.8,-9.4,22.3,-5.9,26,-10.6,29.5]],
 ['er',1,[-57.6,3.6,-54,5.3,-49.4,4,-49,2.6,-54,1.6]],
 ['mjo',0,[-41,-10.5,-47,-8.5,-52,-5,-48,-2.2,-38.8,-1.7,-30.6,-2.2,-27,-7.5,-22.4,-10.5]],
 ['er',0,[57,29.5,56,27,57,25.2,60,20.9,65.9,19.6,73,20.9,76.5,25.2,82.4,29.5]],
 ['kelvin',1,[58.8,24.7,64.7,26.6,73,27.6,73.5,25.7,70.6,23.3,62,22.6]]
];
const contours6 = [
 ['low',0,[-89.5,26,-85,26.7,-79,28,-75,29.5]],
 ['kelvin',1,[-89.5,23.3,-88.5,26,-82.5,28,-76,28,-76,24,-77.6,20,-84.7,19.4,-89,21]],
 ['mjo',0,[-89.5,22.3,-81.3,25.2,-68,26.2,-44.7,28.3,-39,28,-30.6,24.7,-23.5,23.3,-15,24.2,-6,25.2,-1.4,26,-2.4,27.6,-6,29.5]],
 ['mjo',0,[-89.5,19,-82.5,19.4,-77.6,21.3,-76,24.7,-75.5,30]],
 ['kelvin',0,[-1.2,29,-4,25.2,1,22.8,8.2,24.2,11.8,27,14.7,29.5]],
 ['er',1,[29.4,15.6,33,19.4,40,24.2,49.4,28.6,57.6,29.5,65.9,27,67,22.3,62.4,17.5,53,14,41,11.7,34,12.2]],
 ['kelvin',0,[59.4,29.5,53,27,46,25.7,41,26,43.5,28,50.6,29,59.4,29.5]],
 ['kelvin',0,[-45,-10.5,-48,-5.4,-38.8,-5.6,-29.4,-5,-21,-3.7,-15,-6,-15,-9,-26,-10]],
 ['kelvin',0,[-89.5,-7.3,-83,-10.5]],
 ['kelvin',0,[89.2,-3.7,85.3,-7.5,86,-9.4,90,-10]]
];
const contours7 = [
 ['low',0,[-89.5,27,-85,25.7,-79,27,-75,29.5]],
 ['kelvin',1,[-75.3,24.2,-71.8,26.6,-58.8,27.6,-48,26,-45.6,24.7,-48,22.8,-57.6,20.2,-68,21.3,-74,22.3]],
 ['mjo',1,[-87,20,-83,23.3,-75,24.7,-67,25,-66,22.8,-69,19.4,-76.5,16,-84.7,16,-87,18]],
 ['mjo',0,[-63,30,-63.5,27,-56.5,27,-47,28.6,-37,30]],
 ['mjo',0,[-20,30,-16.5,27.6,-9.4,26,0,25.7,11.8,24.2,20,24.7,24.7,28,26.5,30]],
 ['kelvin',0,[19.4,30,18.2,27,20,24.7,24.7,25.2,28.2,30]],
 ['er',0,[49.4,29.5,40,28,30.6,24.2,21,20.4,11.8,17.5,9.4,14.6,14,11.3,21,10.3,30.6,12.2,41,16,53,22.8,60.6,29.5]],
 ['kelvin',0,[-77,-10.5,-76.5,-7.7,-72.4,-6.7,-68,-8,-63.5,-10.5]]
];
const contours8 = [
 ['low',0,[-90,29,-87,26,-81,26.6,-74,29.5]],
 ['mjo',0,[-49,29.8,-46,29.3,-40,29.5]],
 ['mjo',1,[-77.6,20.9,-75.3,23.3,-66,24.2,-58,24.2,-57,22.3,-62.4,18.9,-69.4,17,-76.5,18.5]],
 ['kelvin',0,[-40,29.5,-42.4,28.6,-47.3,26,-42,24.2,-33,26,-28.5,29.5]],
 ['mjo',0,[13,30,20,28.5,29.4,29.5]],
 ['er',0,[34,29.5,31.8,28.6,25.9,26,20,20.9,24,19.4,33,20.4,38.8,23.3,53.5,29.5]],
 ['er',1,[-63.5,-6.5,-60.6,-5,-54,-4.3,-49.4,-6,-50,-9,-56.5,-10,-61.8,-8.5]],
 ['kelvin',0,[-56,-10.5,-56,-9,-54,-6.7,-48,-7,-42,-10.5]]
];

/* ---------- tropical-cyclone symbols: one per listed panel ---------- */
const stormPanels = [1,2];
const stormLons = [-30,-38.7];
const stormLats = [16,12.4];

const panelFills = [fills1,fills2,fills3,fills4,fills5,fills6,fills7,fills8];
const panelContours = [contours1,contours2,contours3,contours4,contours5,contours6,contours7,contours8];

/* ---------- axis functions ---------- */
const NS = 'http://www.w3.org/2000/svg';
const lonScale = 3.517, latScale = 3.525;
function xPos(lon,col){ return 419 + col*742 + lon*lonScale; }
function yPos(lat,row){ return 45 + row*233 + (30-lat)*latScale; }
function mk(tag,attrs,parent){
  const e = document.createElementNS(NS,tag);
  for(const k in attrs) e.setAttribute(k,attrs[k]);
  parent.appendChild(e);
  return e;
}
function toPts(flat,col,row){
  const p=[];
  for(let i=0;i<flat.length;i+=2) p.push([xPos(flat[i],col),yPos(flat[i+1],row)]);
  return p;
}
function smoothPath(p,closed){
  const n=p.length;
  let d='M'+p[0][0].toFixed(1)+' '+p[0][1].toFixed(1);
  const get=i=>closed?p[(i+n)%n]:p[Math.max(0,Math.min(n-1,i))];
  const last=closed?n:n-1;
  for(let i=0;i<last;i++){
    const p0=get(i-1),p1=get(i),p2=get(i+1),p3=get(i+2);
    const c1=[p1[0]+(p2[0]-p0[0])/6,p1[1]+(p2[1]-p0[1])/6];
    const c2=[p2[0]-(p3[0]-p1[0])/6,p2[1]-(p3[1]-p1[1])/6];
    d+='C'+c1[0].toFixed(1)+' '+c1[1].toFixed(1)+' '+c2[0].toFixed(1)+' '+c2[1].toFixed(1)+' '+p2[0].toFixed(1)+' '+p2[1].toFixed(1);
  }
  return d+(closed?'Z':'');
}
function polyPath(p){
  return p.map((q,i)=>(i?'L':'M')+q[0].toFixed(1)+' '+q[1].toFixed(1)).join('');
}

const defs = document.getElementById('defs');
const root = document.getElementById('panels');

for(let idx=0;idx<8;idx++){
  const col = idx<4?0:1, row = idx%4;
  const left = xPos(-90.5,col), right = xPos(90.5,col), top = yPos(30,row), bottom = yPos(-10,row);

  const clip = mk('clipPath',{id:'clip'+idx},defs);
  mk('rect',{x:left,y:top,width:right-left,height:bottom-top},clip);

  const panel = mk('g',{},root);
  
  

  const field = mk('g',{'clip-path':'url(#clip'+idx+')'},panel);
  
  

  const bg = mk('rect',{x:left,y:top,width:right-left,height:bottom-top,fill:levelColors[0]},field);
  
  

  panelFills[idx].forEach(f=>{
    const shape = mk('path',{d:smoothPath(toPts(f[1],col,row),true),fill:levelColors[f[0]]},field);
    
    
  });

  equatorOceanSpans.forEach(s=>{
    const eq = mk('line',{x1:xPos(s[0],col),x2:xPos(s[1],col),y1:yPos(0,row),y2:yPos(0,row),stroke:'#555','stroke-width':1.5,'stroke-dasharray':'5 3.5'},field);
    
    
  });
  const mer = mk('line',{x1:xPos(0,col),x2:xPos(0,col),y1:yPos(meridianOceanSpan[0],row),y2:yPos(meridianOceanSpan[1],row),stroke:'#555','stroke-width':1.5,'stroke-dasharray':'6 3.5'},field);
  
  

  let coastD='';
  coastLines.forEach(l=>{ coastD+=polyPath(toPts(l,col,row)); });
  const coast = mk('path',{d:coastD,fill:'none',stroke:'#666','stroke-width':1.65,'stroke-linejoin':'round'},field);
  
  

  panelContours[idx].forEach(c=>{
    const line = mk('path',{d:smoothPath(toPts(c[2],col,row),!!c[1]),fill:'none',stroke:waveColors[c[0]],'stroke-width':2.1},field);
    
    
  });

  stormPanels.forEach((pIdx,i)=>{
    if(pIdx!==idx) return;
    const cx = xPos(stormLons[i],col), cy = yPos(stormLats[i],row);
    const tails = mk('path',{d:'M'+(cx+3)+' '+(cy-10)+'C'+(cx+1)+' '+(cy-7)+' '+(cx+5)+' '+(cy-5)+' '+(cx+5)+' '+cy+'C'+(cx+5)+' '+(cy+5)+' '+(cx+1)+' '+(cy+6)+' '+(cx-3)+' '+(cy+10)+'C'+(cx-1)+' '+(cy+7)+' '+(cx-5)+' '+(cy+5)+' '+(cx-5)+' '+cy+'C'+(cx-5)+' '+(cy-5)+' '+(cx-1)+' '+(cy-6)+' '+(cx+3)+' '+(cy-10)+'Z',fill:'#c81010',stroke:'#000','stroke-width':2},field);
    
    
    const eye = mk('ellipse',{cx:cx,cy:cy,rx:1.3,ry:3,fill:'#f2f2f2'},field);
    
    
  });

  const frame = mk('rect',{x:left,y:top,width:right-left,height:bottom-top,fill:'none',stroke:'#000','stroke-width':2.8},panel);
  
  

  /* ticks */
  const ticks = mk('g',{stroke:'#000','stroke-width':1.2},panel);
  
  
  for(let lon=-90;lon<=90;lon+=10){
    const major = lonTickValues.indexOf(lon)>=0;
    const x = xPos(lon,col), len = major?6:3;
    const sw = major?2.2:1.2;
    const tt = mk('line',{x1:x,x2:x,y1:top,y2:top-len,'stroke-width':sw},ticks);
    
    
    const tb = mk('line',{x1:x,x2:x,y1:bottom,y2:bottom+len+(major?2:1),'stroke-width':sw},ticks);
    
    
  }
  for(let lat=-10;lat<=30;lat+=2){
    const major = lat%10===0;
    const y = yPos(lat,row), len = major?5:2.5;
    const sw = major?2.2:1;
    const tl = mk('line',{x1:left,x2:left-len,y1:y,y2:y,'stroke-width':sw},ticks);
    
    
    const tr = mk('line',{x1:right,x2:right+len,y1:y,y2:y,'stroke-width':sw},ticks);
    
    
  }

  /* y labels on the left column */
  if(col===0){
    latTickValues.forEach((lat,i)=>{
      const t = mk('text',{x:left-27,y:yPos(lat,row)+12,'text-anchor':'end','font-size':34},panel);
      
      
      t.textContent = latTickLabels[i];
    });
  }

  /* x labels on the bottom row */
  if(row===3){
    lonTickValues.forEach((lon,i)=>{
      const t = mk('text',{x:xPos(lon,col),y:yPos(-10,row)+54.5,'text-anchor':'middle','font-size':35},panel);
      
      
      t.textContent = lonTickLabels[i];
    });
  }
}

/* ---------- colour bar ---------- */
const cbar = document.getElementById('colorbar');
const cbLeft = 230, cbWidth = 54.8, cbTop = 1003, cbHeight = 23;
colorbarLevels.forEach((lv,i)=>{
  const box = mk('rect',{x:cbLeft+i*cbWidth,y:cbTop,width:cbWidth,height:cbHeight,fill:levelColors[lv],stroke:'#000','stroke-width':1.5},cbar);
  
  
});
colorbarLabels.forEach((lab,i)=>{
  const t = mk('text',{x:cbLeft+(i+1)*cbWidth,y:1055,'text-anchor':'middle','font-size':31},cbar);
  
  
  t.textContent = lab;
});
</script>
</body>
</html>
